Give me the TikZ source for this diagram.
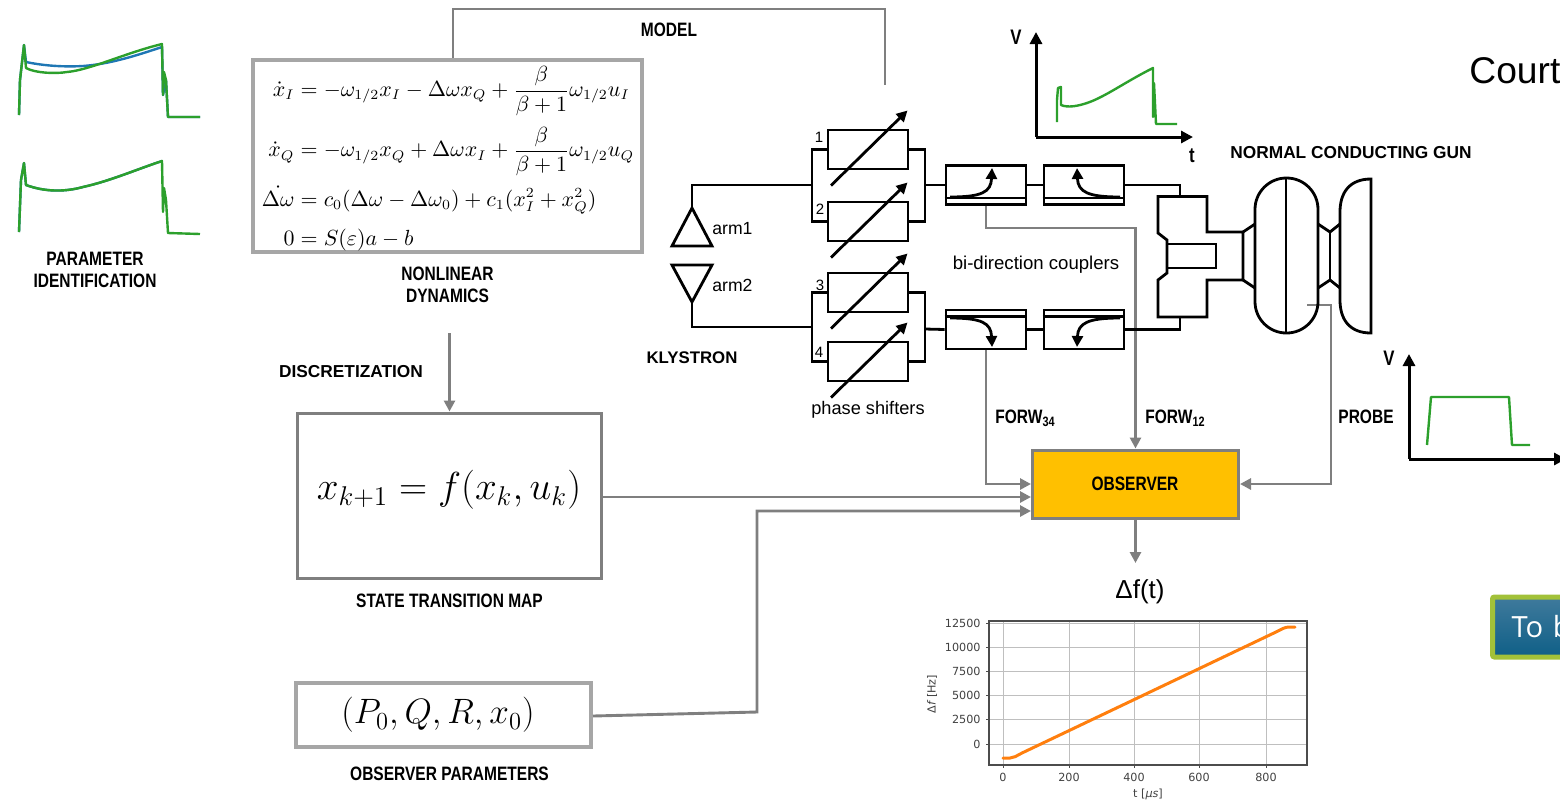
\documentclass[tikz,border=0pt]{standalone}
\usepackage{amsmath}
\usepackage{fontspec}
\setmainfont{Liberation Sans}
\newfontfamily\condfont[FakeStretch=0.8]{Liberation Sans}
\newfontfamily\btnfont{Open Sans}
\newfontfamily\plotfont{DejaVu Sans}
\usetikzlibrary{arrows.meta,positioning,calc,shadows}
\definecolor{linkgray}{HTML}{7F7F7F}
\definecolor{boxgray}{HTML}{A6A6A6}
\definecolor{obsgold}{HTML}{FFC000}
\definecolor{wavegreen}{HTML}{2CA02C}
\definecolor{waveblue}{HTML}{1F77B4}
\definecolor{curveorange}{HTML}{FF7F0E}
\definecolor{btnedge}{HTML}{A2C139}
\definecolor{btntop}{HTML}{3F7A9C}
\definecolor{btnbottom}{HTML}{0F5F87}
\tikzset{
  % boxes of the left column
  lightbox/.style={
    rectangle,
    draw=boxgray,
    line width=2pt,
    inner sep=0pt
  },
  darkbox/.style={
    rectangle,
    draw=linkgray,
    line width=1.5pt,
    inner sep=0pt
  },
  % RF parts
  shifter/.style={
    rectangle,
    draw=black,
    line width=1.4pt,
    minimum width=40pt,
    minimum height=19.5pt,
    inner sep=0pt
  },
  coupler/.style={
    rectangle,
    draw=black,
    line width=1.4pt,
    minimum width=40pt,
    minimum height=19.5pt,
    inner sep=0pt
  },
  caption/.style={font=\condfont\fontsize{9.7}{11}\selectfont\bfseries, align=center, inner sep=0pt},
  heading/.style={font=\fontsize{8.65}{10}\selectfont\bfseries, align=center, inner sep=0pt},
  plain/.style={font=\fontsize{9.1}{10}\selectfont, inner sep=0pt},
  ticklabel/.style={font=\plotfont\fontsize{5.6}{6}\selectfont, text=black!75, inner sep=0pt}
}
\tikzstyle{wire} = [draw, black, line width=1.4pt]
\tikzstyle{tune} = [draw, black, line width=1.4pt, -{Triangle[length=5.5pt,width=5.5pt]}]
\tikzstyle{axis} = [draw, black, line width=1.5pt, -{Triangle[length=6pt,width=6pt]}]
\tikzstyle{link} = [draw, linkgray, line width=1.45pt]
\tikzstyle{line} = [draw, linkgray, line width=1.45pt, -{Triangle[length=5.5pt,width=5.5pt]}]
\tikzstyle{wave} = [draw, wavegreen, line width=1.2pt, line join=round]
\begin{document}
\begin{tikzpicture}[x=0.5pt,y=-0.5pt]
\path [use as bounding box,clip] (0,0) rectangle (1560,800);
% Left column
\node [lightbox, minimum width=194.5pt, minimum height=96pt] (dynamics) at (447.5,156) {};
\node [inner sep=0pt, font=\fontsize{10.6}{12}\selectfont] (dyneq) at (448,159.5) {$\begin{aligned}
\dot{x}_I &= -\omega_{1/2}x_I-\Delta\omega x_Q+\frac{\beta}{\beta+1}\omega_{1/2}u_I\\[1.5pt]
\dot{x}_Q &= -\omega_{1/2}x_Q+\Delta\omega x_I+\frac{\beta}{\beta+1}\omega_{1/2}u_Q\\[1pt]
\dot{\Delta\omega} &= c_0(\Delta\omega-\Delta\omega_0)+c_1(x_I^2+x_Q^2)\\[3pt]
0 &= S(\varepsilon)a-b
\end{aligned}$};
\node [darkbox, minimum width=152pt, minimum height=82.5pt] (statemap) at (449.5,495.5) {};
\node [inner sep=0pt, font=\fontsize{17.28}{20}\selectfont] (mapeq) at (449,490) {\scalebox{1.13}{$x_{k+1}=f(x_k,u_k)$}};
\node [lightbox, minimum width=147.5pt, minimum height=32pt] (params) at (443.5,715) {};
\node [inner sep=0pt, font=\fontsize{17.28}{18}\selectfont] (parameq) at (438,715) {\scalebox{1.02}{$(P_0,Q,R,x_0)$}};
\node [caption] (ident) at (95,270) {PARAMETER\\IDENTIFICATION};
\node [caption, below of=dynamics, node distance=64.5pt] (dynlabel) {NONLINEAR\\DYNAMICS};
\node [caption, below of=statemap, node distance=52.75pt] (maplabel) {STATE TRANSITION MAP};
\node [caption, below of=params, node distance=29.5pt, xshift=3pt] (paramlabel) {OBSERVER PARAMETERS};
\node [heading] (discr) at (351,371.5) {DISCRETIZATION};
\node [caption] (modellabel) at (669,30) {MODEL};
% Klystron and phase shifters
\node [shifter] (ps1) at (868,149.5) {};
\node [shifter] (ps2) at (868,221.5) {};
\node [shifter] (ps3) at (868,292.5) {};
\node [shifter] (ps4) at (868,361.5) {};
\node [plain, font=\fontsize{7.5}{9}\selectfont] (n1) at (819,137) {1};
\node [plain, font=\fontsize{7.5}{9}\selectfont] (n2) at (820,209) {2};
\node [plain, font=\fontsize{7.5}{9}\selectfont] (n3) at (820,285) {3};
\node [plain, font=\fontsize{7.5}{9}\selectfont] (n4) at (819,352) {4};
\node [plain, anchor=west, font=\fontsize{8.8}{10}\selectfont] (arm1) at (712,229) {arm1};
\node [plain, anchor=west, font=\fontsize{8.8}{10}\selectfont] (arm2) at (712,285) {arm2};
\node [heading, font=\fontsize{8.4}{10}\selectfont\bfseries] (klystron) at (692,357.5) {KLYSTRON};
\node [plain] (shifters) at (868,409.5) {phase shifters};
\coordinate (apex1) at (692,208);
\coordinate (apex2) at (692,302);
\coordinate (busl12) at (812,185);
\coordinate (busr12) at (925,185);
\coordinate (busl34) at (812,327);
\coordinate (busr34) at (925,329);
% Couplers
\node [coupler] (ca) at (986,185) {};
\node [coupler] (cb) at (1084,185) {};
\node [coupler] (cc) at (986,329.5) {};
\node [coupler] (cd) at (1084,329.5) {};
\node [plain, font=\fontsize{9.3}{10}\selectfont] (couplers) at (1036,264.5) {bi-direction couplers};
% Gun
\coordinate (feedtop) at (1180,196.5);
\coordinate (feedbot) at (1180,317);
\coordinate (pickup) at (1307,305);
\node [heading] (gunlabel) at (1351,152.5) {NORMAL CONDUCTING GUN};
% Observer
\node [darkbox, fill=obsgold, minimum width=103pt, minimum height=34pt] (observer) at (1135.5,484) {};
\node [caption] (obslabel) at (1135,484) {OBSERVER};
\node [inner sep=0pt, font=\fontsize{13}{15}\selectfont] (deltaf) at (1140,592) {Δf(t)};
\node [caption, anchor=west] (forw34) at (995,418) {FORW\textsubscript{34}};
\node [caption, anchor=west] (forw12) at (1145,418) {FORW\textsubscript{12}};
\node [caption] (probe) at (1366,417) {PROBE};
\coordinate (dynout) at (449.5,333);
\coordinate (modelcorner) at (885,9);
\coordinate (modelend) at (885,85);
\coordinate (parambend) at (757,712);
\coordinate (fbend) at (1135.5,228);
\coordinate (pbend) at (1331,400);
\coordinate (obsout) at (1135.5,563);
% Draw edges
\path [link] ([xshift=2.75pt]dynamics.north) |- (modelcorner) -- (modelend);
\path [line] (dynout) -- (statemap.north);
\path [line] ([yshift=-0.75pt]statemap.east) -- ([yshift=-6.5pt]observer.west);
\path [line] ([yshift=-0.5pt]params.east) -- (parambend) |- ([yshift=-13.5pt]observer.west);
\path [line] (cc.south) |- (observer.west);
\path [line] (ca.south) |- (fbend) -- (observer.north);
\path [line] (pickup) -| (pbend) |- (observer.east);
\path [line] (observer.south) -- (obsout);
% Black waveguides
\draw [wire] (apex1) -- (692,185) -- (busl12);
\draw [wire] (apex2) -- (692,327) -- (busl34);
\draw [wire] (672,246) -- (apex1) -- (712,246) -- cycle;
\draw [wire] (672,265) -- (apex2) -- (712,265) -- cycle;
\draw [wire] (ps1.west) -| (busl12) |- (ps2.west);
\draw [wire] (ps3.west) -| (busl34) |- (ps4.west);
\draw [wire] (ps1.east) -| (busr12) |- (ps2.east);
\draw [wire] (ps3.east) -| (busr34) |- (ps4.east);
\draw [wire] (busr12) -- (ca.west);
\draw [wire] (busr34) -- (cc.west);
\draw [wire] (ca.east) -- (cb.west);
\draw [wire] (cc.east) -- (cd.west);
\draw [wire] (cb.east) -| (feedtop);
\draw [wire] (cd.east) -| (feedbot);
\foreach \ps in {ps1,ps2,ps3,ps4}
  \path [tune] ($(\ps.center)+(-37,36)$) -- ($(\ps.center)+(39.5,-39)$);
\draw [wire] ([yshift=4pt]ca.south west) -- ([yshift=4pt]ca.south east);
\draw [wire] ([yshift=4pt]cb.south west) -- ([yshift=4pt]cb.south east);
\draw [wire] ([yshift=-4pt]cc.north west) -- ([yshift=-4pt]cc.north east);
\draw [wire] ([yshift=-4pt]cd.north west) -- ([yshift=-4pt]cd.north east);
\path [tune] (950,197) .. controls (982,197) and (991,192) .. (992,168);
\path [tune] (1120,197) .. controls (1088,197) and (1078,192) .. (1077,168);
\path [tune] (950,318) .. controls (982,318) and (991,323) .. (992,347);
\path [tune] (1120,318) .. controls (1088,318) and (1078,323) .. (1077,347);
% Gun outline
\draw [wire] (feedtop) -- (1158,196.5) -- (1158,233) -- (1167,240) -- (1167,273) -- (1158,280) -- (1158,317) -- (1207,317) -- (1207,280) -- (1243,280) -- (1243,232) -- (1207,232) -- (1207,196.5) -- cycle;
\draw [wire] (1167,244) rectangle (1216,268);
\draw [wire] (1243,232) -- (1255,224);
\draw [wire] (1243,280) -- (1255,288);
\draw [wire, rounded corners=15.7pt] (1255,178) rectangle (1318,333);
\draw [wire] (1286,178) -- (1286,333);
\draw [wire] (1318,224) -- (1330,232) -- (1340,224);
\draw [wire] (1318,288) -- (1330,280) -- (1340,288);
\draw [wire] (1330,232) -- (1330,280);
\draw [wire] (1371,179) .. controls (1350,179) and (1340,192) .. (1340,212) -- (1340,300) .. controls (1340,320) and (1350,333) .. (1371,333) -- cycle;
% Parameter traces
\draw [draw=waveblue, line width=1.2pt, line join=round] (19,115) -- (20,80) -- (24,45) -- (26,62) .. controls (45,66) and (65,67) .. (83,66) .. controls (110,64) and (135,56) .. (162,47) -- (163,95) -- (166,80) -- (168,117) -- (200,117);
\draw [wave] (19,115) -- (20,80) -- (24,45) -- (26,68) .. controls (35,73) and (55,74) .. (67,72) .. controls (90,70) and (125,53) .. (162,44) -- (163,95) -- (164,72) -- (166,80) -- (168,117) -- (200,117);
\draw [draw=waveblue, line width=1.2pt, line join=round] (19,232) -- (21,180) -- (24,163) -- (26,185) .. controls (45,192) and (65,192) .. (83,187) .. controls (110,181) and (135,170) .. (162,161);
\draw [wave] (19,232) -- (21,180) -- (24,163) -- (26,185) .. controls (45,192) and (65,192) .. (83,187) .. controls (110,181) and (135,170) .. (162,161) -- (163,212) -- (164,188) -- (166,200) -- (168,233) -- (200,234);
% Upper scope
\node [caption, font=\condfont\fontsize{10.5}{12}\selectfont\bfseries] (vtop) at (1016,37) {V};
\node [caption, font=\condfont\fontsize{10.5}{12}\selectfont\bfseries] (ttop) at (1192,156) {t};
\coordinate (origintop) at (1036,137);
\path [axis] (origintop) -- (1036,32);
\path [axis] (origintop) -- (1193,137);
\draw [wave] (1057,122) -- (1057,100) -- (1058,88) -- (1061,87) -- (1061,105) .. controls (1068,108) and (1078,106) .. (1087,103) .. controls (1105,97) and (1125,82) .. (1153,68) -- (1153,117) -- (1154,83) -- (1156,124) -- (1177,124);
% Probe scope
\node [caption, font=\condfont\fontsize{10.5}{12}\selectfont\bfseries] (vprobe) at (1389,358) {V};
\coordinate (originprobe) at (1409,459);
\path [axis] (originprobe) -- (1409,354);
\path [axis] (originprobe) -- (1566,459);
\draw [wave] (1427,445) -- (1431,397) -- (1509,397) -- (1512,445) -- (1530,445);
% Detuning chart
\foreach \xv/\xp in {0/1003,200/1069,400/1134,600/1199,800/1266} {
  \draw [black!25, line width=0.5pt] (\xp,621) -- (\xp,765);
  \draw [black!70, line width=0.4pt] (\xp,765) -- (\xp,768);
  \node [ticklabel] (xt\xv) at (\xp,777) {\xv};
}
\foreach \yv/\yp in {12500/623,10000/647,7500/671,5000/695,2500/719,0/744} {
  \draw [black!25, line width=0.5pt] (989,\yp) -- (1307,\yp);
  \draw [black!70, line width=0.4pt] (986,\yp) -- (989,\yp);
  \node [ticklabel, anchor=east] (yt\yv) at (981,\yp) {\yv};
}
\draw [black!70, line width=0.7pt] (989,621) rectangle (1307,765);
\draw [curveorange, line width=1.5pt, line cap=round] (1003,758) -- (1010,758) .. controls (1014,758) and (1016,756) .. (1022,753) -- (1276,632) .. controls (1282,629) and (1285,627) .. (1289,627) -- (1295,627);
\node [ticklabel, rotate=90] (ylabel) at (932,694) {Δ{\itshape f} [Hz]};
\node [ticklabel] (xlabel) at (1148,794) {t [{\itshape μs}]};
% Clipped slide pieces
\node [inner sep=0pt, anchor=west, font=\fontsize{18.6}{20}\selectfont] (court) at (1469,71) {Court};
\node [anchor=west, draw=btnedge, line width=2.5pt, rounded corners=1pt, top color=btntop, bottom color=btnbottom, drop shadow={shadow xshift=0.7pt, shadow yshift=-0.9pt, opacity=0.35}, minimum height=30pt, text width=90pt, align=left, inner xsep=9.5pt, inner ysep=0pt, text=white, font=\btnfont\fontsize{14.6}{16}\selectfont] (tobe) at (1490,627) {To b};
\end{tikzpicture}
\end{document}
